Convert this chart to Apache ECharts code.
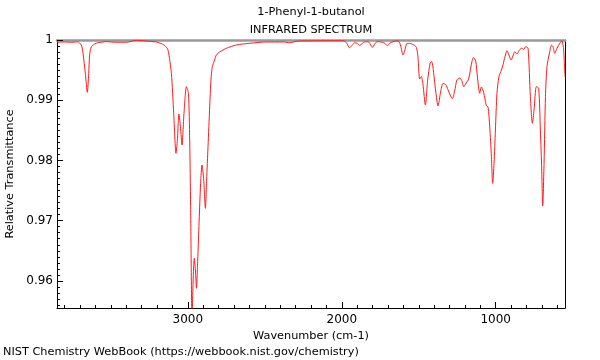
<!DOCTYPE html>
<html>
<head>
<meta charset="utf-8">
<script src="https://cdn.jsdelivr.net/npm/echarts@6/dist/echarts.min.js"></script>
<style>html,body{margin:0;padding:0;background:#fff;}#c{width:600px;height:360px;}</style>
</head>
<body>
<div id="c"></div>
<script>
// Wavenumber (cm-1)
const wavenumbers = [3850,3800,3755,3716,3692,3681,3666,3653,3644,3638,3627,3605,3584,3529,3464,3399,3334,3269,3204,3183,3150,3129,3107,3092,3077,3068,3058,3048,3038,3025,3009,2996,2988,2982,2973,2964,2958,2951,2944,2936,2928,2917,2908,2897,2886,2878,2869,2858,2850,2841,2826,2815,2793,2750,2685,2598,2490,2382,2338,2295,2273,2144,1992,1970,1949,1931,1916,1901,1884,1866,1847,1823,1801,1786,1771,1754,1736,1721,1704,1689,1667,1635,1619,1602,1587,1576,1554,1526,1515,1505,1494,1483,1473,1457,1442,1426,1416,1408,1390,1375,1358,1343,1325,1310,1296,1282,1267,1252,1234,1221,1207,1192,1176,1159,1145,1130,1119,1104,1093,1081,1072,1061,1050,1039,1028,1020,1011,1002,992,979,963,953,940,927,914,901,888,877,862,849,833,818,805,790,775,762,751,736,721,710,701,695,686,677,667,649,638,628,617,602,584,570,559,550];
// Relative transmittance
const transmittance = [0.99962,0.99967,0.99962,0.9997,0.99917,0.99779,0.99447,0.99131,0.99447,0.99751,0.99889,0.99934,0.99955,0.99972,0.99962,0.99962,0.99995,0.99983,0.99967,0.9995,0.99909,0.99834,0.99447,0.98783,0.98119,0.98339,0.98771,0.9856,0.98256,0.98783,0.99225,0.99115,0.98339,0.97232,0.9540,0.96131,0.96375,0.96181,0.95877,0.96347,0.969,0.9762,0.97924,0.97675,0.97205,0.97675,0.98228,0.98892,0.99336,0.99557,0.99668,0.99751,0.99801,0.99862,0.99917,0.99945,0.99967,0.99967,0.99955,0.99978,0.99983,0.99987,0.99988,0.99955,0.99872,0.99917,0.99955,0.99945,0.99912,0.99945,0.99972,0.99962,0.99879,0.99934,0.99972,0.9997,0.99962,0.99945,0.99905,0.99945,0.99972,0.99988,0.99917,0.99751,0.99862,0.99945,0.99942,0.99909,0.99875,0.99718,0.99352,0.99394,0.99269,0.98921,0.99336,0.99618,0.9964,0.99552,0.99153,0.98904,0.99137,0.99278,0.99261,0.99175,0.99087,0.99025,0.99153,0.99336,0.99369,0.99327,0.99224,0.99286,0.99352,0.99585,0.99709,0.99651,0.99386,0.99115,0.9922,0.99153,0.99053,0.98912,0.98887,0.9856,0.98062,0.9762,0.97952,0.98505,0.99115,0.99391,0.99502,0.99585,0.99723,0.99822,0.99751,0.99668,0.99734,0.99806,0.99768,0.99822,0.99862,0.99846,0.99889,0.99862,0.99058,0.98617,0.98838,0.99225,0.99198,0.98505,0.97841,0.97243,0.97952,0.99058,0.99557,0.99806,0.99917,0.99889,0.99779,0.99862,0.99945,0.99988,0.99834,0.99391];

const xRange = [550, 3850];
const yRange = [0.9555, 1.0];
const xLabelValues = [1000, 2000, 3000];
const yLabelValues = [0.96, 0.97, 0.98, 0.99, 1.0];
const xMinorTicks = [];
for (let v = 600; v <= 3800; v += 100) xMinorTicks.push(v);
const yMinorTicks = [];
for (let k = 956; k <= 999; k++) yMinorTicks.push(k / 1000);

const FONT = 'DejaVu Sans';
const TXT = '11.3px "DejaVu Sans"';
const chart = echarts.init(document.getElementById('c'), null, {renderer: 'canvas'});
const points = wavenumbers.map((w, i) => [w, transmittance[i]]);

const baseX = {type: 'value', min: xRange[0], max: xRange[1], inverse: true, splitLine: {show: false}};
const baseY = {type: 'value', min: yRange[0], max: yRange[1], splitLine: {show: false}};

chart.setOption({
  animation: false,
  backgroundColor: '#fff',
  textStyle: {fontFamily: FONT},
  grid: {left: 57, right: 35, top: 40, bottom: 52, containLabel: false, outerBoundsMode: 'none'},
  graphic: [
    {type: 'text', x: 311, y: 7, style: {text: '1-Phenyl-1-butanol', font: TXT, fill: '#000', align: 'center', textAlign: 'center'}},
    {type: 'text', x: 311, y: 25, style: {text: 'INFRARED SPECTRUM', font: TXT, fill: '#000', align: 'center', textAlign: 'center'}},
    {type: 'text', x: 3, y: 347, style: {text: 'NIST Chemistry WebBook (https://webbook.nist.gov/chemistry)', font: TXT, fill: '#000'}}
  ],
  xAxis: [
    Object.assign({}, baseX, {
      position: 'bottom',
      name: 'Wavenumber (cm-1)', nameLocation: 'middle', nameGap: 17,
      nameTextStyle: {color: '#000', fontSize: 11.3, fontFamily: FONT},
      axisLine: {show: true, lineStyle: {color: '#000', width: 1}},
      axisTick: {show: true, inside: true, length: 3, lineStyle: {color: '#000'}, customValues: xMinorTicks},
      axisLabel: {show: true, color: '#000', fontSize: 12, fontFamily: FONT, margin: 6, customValues: xLabelValues, formatter: v => String(Math.round(v))}
    }),
    Object.assign({}, baseX, {
      position: 'bottom',
      axisLine: {show: false},
      axisTick: {show: true, inside: true, length: 6, lineStyle: {color: '#000'}, customValues: xLabelValues},
      axisLabel: {show: false}
    }),
    Object.assign({}, baseX, {
      position: 'top',
      axisLine: {show: true, lineStyle: {color: '#999', width: 2.5}},
      axisTick: {show: false},
      axisLabel: {show: false}
    })
  ],
  yAxis: [
    Object.assign({}, baseY, {
      position: 'left',
      name: 'Relative Transmittance', nameLocation: 'middle', nameGap: 41, nameRotate: 90,
      nameTextStyle: {color: '#000', fontSize: 11.3, fontFamily: FONT},
      axisLine: {show: true, lineStyle: {color: '#000', width: 1}},
      axisTick: {show: true, inside: true, length: 3, lineStyle: {color: '#000'}, customValues: yMinorTicks},
      axisLabel: {show: true, color: '#000', fontSize: 12, fontFamily: FONT, margin: 4, customValues: yLabelValues, formatter: v => String(parseFloat(v.toFixed(2)))}
    }),
    Object.assign({}, baseY, {
      position: 'left',
      axisLine: {show: false},
      axisTick: {show: true, inside: true, length: 6, lineStyle: {color: '#000'}, customValues: yLabelValues},
      axisLabel: {show: false}
    }),
    Object.assign({}, baseY, {
      position: 'right',
      axisLine: {show: true, lineStyle: {color: '#000', width: 1}},
      axisTick: {show: false},
      axisLabel: {show: false}
    })
  ],
  series: [{
    type: 'line',
    xAxisIndex: 0,
    yAxisIndex: 0,
    data: points,
    showSymbol: false,
    smooth: 0.25,
    clip: true,
    lineStyle: {color: '#ff1a1a', width: 1},
    z: 1
  }]
});
</script>
</body>
</html>
